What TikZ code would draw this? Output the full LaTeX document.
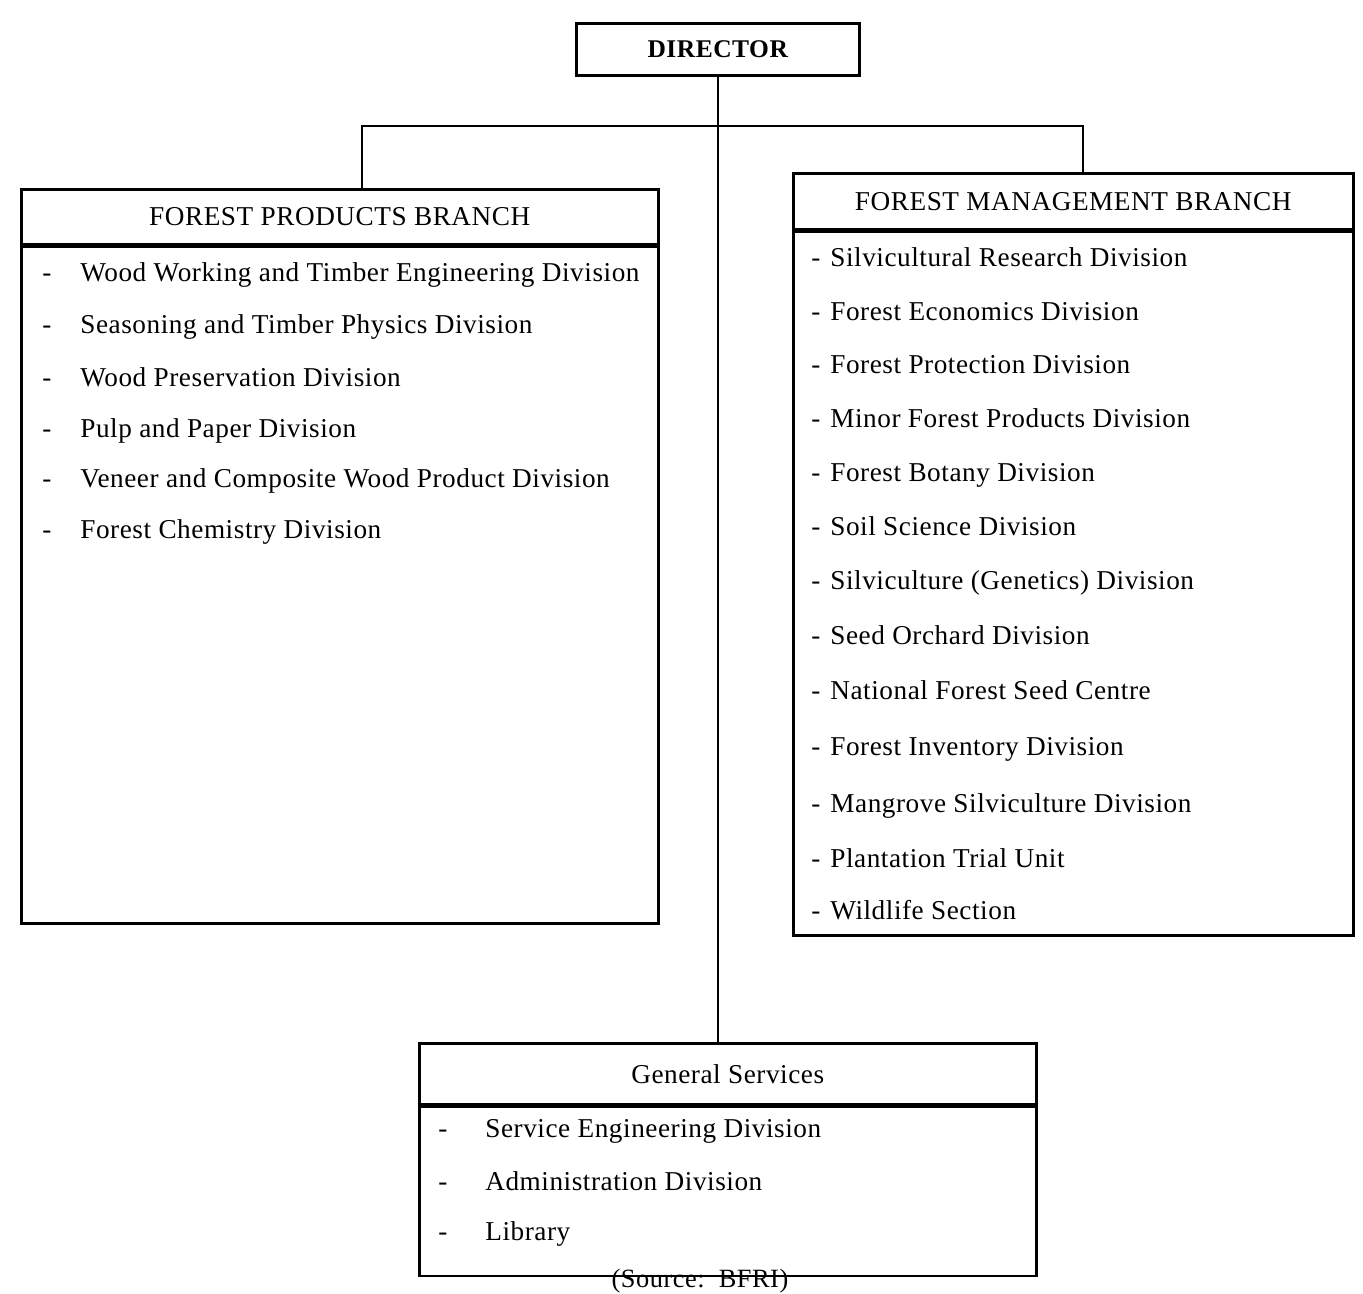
\documentclass[tikz,border=0pt]{standalone}
\usepackage{fontspec}
\setmainfont{Liberation Serif}[LetterSpace=2]
\usepackage{tikz}
\usetikzlibrary{positioning, calc}
\tikzset{
    dirbox/.style={rectangle, draw=black, line width=1.5pt, fill=white,
                   minimum width=5.66cm, minimum height=1.04cm,
                   font=\fontsize{14.5}{16}\selectfont\bfseries},
    hdrbox/.style={rectangle, draw=black, line width=1.5pt, fill=white,
                   font=\fontsize{15.5}{18}\selectfont},
    bodybox/.style={rectangle, draw=black, line width=1.5pt, fill=white},
    itemdash/.style={anchor=base west, inner sep=0pt, font=\fontsize{15.5}{18}\selectfont},
    itemtxt/.style={anchor=base west, inner sep=0pt, font=\fontsize{15.5}{18}\selectfont},
    link/.style={draw=black, line width=1.1pt},
}
\begin{document}
\begin{tikzpicture}[x=0.02cm, y=-0.02cm]
    \useasboundingbox (0,0) rectangle (1363,1294);
    % top
    \node[dirbox, anchor=north west] (director) at (575,22) {DIRECTOR};
    % branch headers and bodies
    \node[hdrbox, minimum width=12.74cm, minimum height=1.1cm, anchor=north west]
        (fpHead) at (20,188) {FOREST PRODUCTS BRANCH};
    \node[bodybox, minimum width=12.74cm, minimum height=13.54cm, anchor=north west]
        (fpBody) at (fpHead.south west) {};
    \node[hdrbox, minimum width=11.2cm, minimum height=1.12cm, anchor=north west]
        (fmHead) at (792,172) {FOREST MANAGEMENT BRANCH};
    \node[bodybox, minimum width=11.2cm, minimum height=14.08cm, anchor=north west]
        (fmBody) at (fmHead.south west) {};
    \node[hdrbox, minimum width=12.34cm, minimum height=1.22cm, anchor=north west]
        (gsHead) at (418,1042) {General Services};
    \node[bodybox, minimum width=12.34cm, minimum height=3.38cm, anchor=north west]
        (gsBody) at (gsHead.south west) {};
    \node[font=\fontsize{15}{17}\selectfont] (source) at (700,1281) {(Source:\ \ BFRI)};
    % connectors
    \coordinate (barL) at (362,126);
    \coordinate (barR) at (1083,126);
    \draw[link] (director.south) -- (director.south |- gsHead.north);
    \draw[link] (fpHead.north -| barL) -- (barL) -- (barR) -- (fmHead.north -| barR);
    % forest products list
    \foreach \y/\lbl [count=\i] in {282/Wood Working and Timber Engineering Division,
            334/Seasoning and Timber Physics Division,
            386/Wood Preservation Division,
            437/Pulp and Paper Division,
            487/Veneer and Composite Wood Product Division,
            538/Forest Chemistry Division} {
        \node[itemdash] (fpDash\i) at (42,\y) {-};
        \node[itemtxt] (fpItem\i) at (80,\y) {\lbl};
    }
    % forest management list
    \foreach \y/\lbl [count=\i] in {267/Silvicultural Research Division,
            320/Forest Economics Division,
            374/Forest Protection Division,
            427/Minor Forest Products Division,
            481/Forest Botany Division,
            535/Soil Science Division,
            589/Silviculture (Genetics) Division,
            644/Seed Orchard Division,
            699/National Forest Seed Centre,
            755/Forest Inventory Division,
            812/Mangrove Silviculture Division,
            867/Plantation Trial Unit,
            919/Wildlife Section} {
        \node[itemdash] (fmDash\i) at (811,\y) {-};
        \node[itemtxt] (fmItem\i) at (830,\y) {\lbl};
    }
    % general services list
    \foreach \y/\lbl [count=\i] in {1137/Service Engineering Division,
            1190/Administration Division,
            1240/Library} {
        \node[itemdash] (gsDash\i) at (438,\y) {-};
        \node[itemtxt] (gsItem\i) at (485,\y) {\lbl};
    }
\end{tikzpicture}
\end{document}
